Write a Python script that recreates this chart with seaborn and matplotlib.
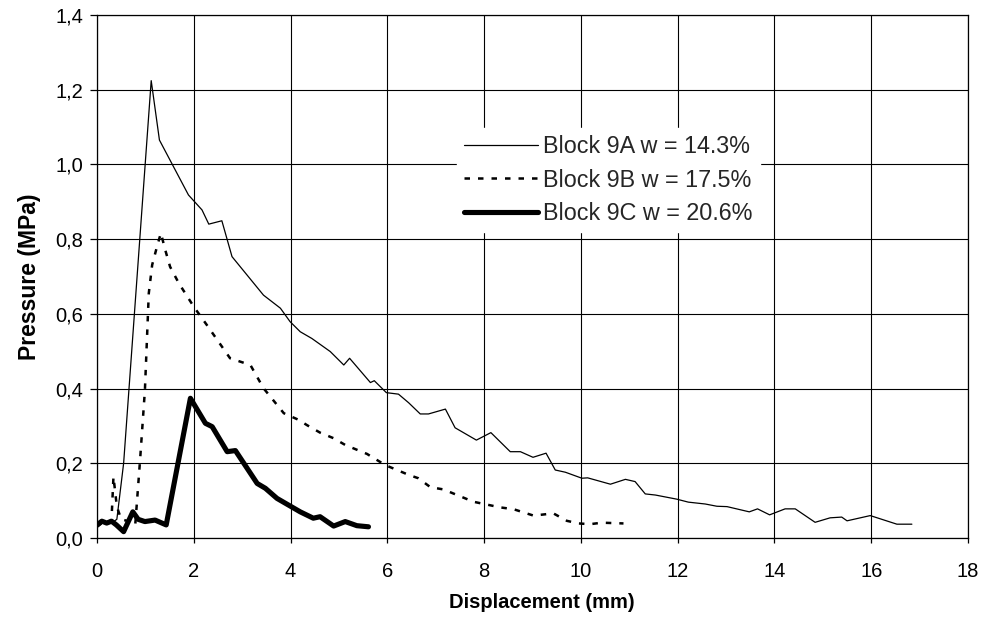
import matplotlib
matplotlib.use("Agg")
import matplotlib.pyplot as plt
from matplotlib.lines import Line2D
from matplotlib.ticker import FuncFormatter
import seaborn as sns
import pandas as pd

# ---- data ----
x_9a = [0, 0.1, 0.2, 0.3, 0.41, 0.55, 1.12, 1.29, 1.89, 2.17, 2.31, 2.58, 2.79, 3.44, 3.79,
        3.99, 4.2, 4.44, 4.82, 5.10, 5.22, 5.65, 5.73, 5.98, 6.23, 6.44, 6.68, 6.85, 7.20, 7.40,
        7.84, 8.14, 8.54, 8.75, 9.01, 9.28, 9.47, 9.68, 10.02, 10.14, 10.61, 10.92, 11.12, 11.33,
        11.54, 11.98, 12.22, 12.57, 12.81, 13.02, 13.48, 13.65, 13.90, 14.22, 14.43, 14.84, 15.15,
        15.39, 15.50, 15.98, 16.53, 16.84]
y_9a = [0.035, 0.04, 0.038, 0.04, 0.05, 0.2, 1.224, 1.065, 0.918, 0.878, 0.84, 0.849, 0.753, 0.65,
        0.615, 0.579, 0.552, 0.534, 0.499, 0.463, 0.481, 0.416, 0.421, 0.389, 0.385, 0.362, 0.332,
        0.332, 0.345, 0.295, 0.262, 0.282, 0.231, 0.231, 0.216, 0.227, 0.182, 0.176, 0.160, 0.161,
        0.144, 0.157, 0.151, 0.118, 0.115, 0.104, 0.096, 0.091, 0.085, 0.084, 0.070, 0.078, 0.062,
        0.078, 0.078, 0.042, 0.054, 0.056, 0.046, 0.060, 0.037, 0.037]

x_9b = [0, 0.1, 0.2, 0.3, 0.34, 0.41, 0.5, 0.65, 0.79, 0.89, 0.99, 1.07, 1.14, 1.24, 1.32, 1.41,
        1.51, 1.69, 2.0, 2.27, 2.75, 3.17, 3.44, 3.86, 4.17, 4.34, 4.61, 4.89, 5.13, 5.58, 5.96,
        6.44, 6.64, 6.89, 7.16, 7.78, 8.33, 8.61, 9.02, 9.23, 9.43, 9.71, 9.95, 10.19, 10.43, 10.88]
y_9b = [0.03, 0.04, 0.035, 0.05, 0.164, 0.084, 0.05, 0.045, 0.035, 0.209, 0.396, 0.655, 0.731,
        0.78, 0.816, 0.771, 0.726, 0.682, 0.619, 0.57, 0.481, 0.463, 0.401, 0.334, 0.316, 0.302,
        0.282, 0.267, 0.249, 0.225, 0.195, 0.169, 0.160, 0.136, 0.130, 0.097, 0.082, 0.077, 0.060,
        0.063, 0.066, 0.046, 0.039, 0.037, 0.041, 0.039]

x_9c = [0, 0.1, 0.2, 0.3, 0.4, 0.55, 0.74, 0.85, 0.99, 1.2, 1.43, 1.93, 2.24, 2.38, 2.69, 2.86,
        3.31, 3.48, 3.72, 4.2, 4.47, 4.61, 4.89, 5.13, 5.37, 5.61]
y_9c = [0.035, 0.045, 0.04, 0.045, 0.035, 0.017, 0.07, 0.05, 0.044, 0.048, 0.035, 0.374, 0.307,
        0.298, 0.231, 0.234, 0.146, 0.133, 0.106, 0.07, 0.053, 0.057, 0.032, 0.044, 0.033, 0.030]

labels = ["Block 9A w = 14.3%", "Block 9B w = 17.5%", "Block 9C w = 20.6%"]
x_ticks = [0, 2, 4, 6, 8, 10, 12, 14, 16, 18]
y_ticks = [0.0, 0.2, 0.4, 0.6, 0.8, 1.0, 1.2, 1.4]

# ---- style ----
sns.set_theme(style="white")
plt.rcParams["font.family"] = ["Liberation Sans", "DejaVu Sans"]

fig = plt.figure(figsize=(9.96, 6.28), dpi=100)
ax = fig.add_axes([0.0974, 0.1433, 0.8745, 0.8330])

styles = [
    dict(lw=0.9, ls="-"),
    dict(lw=1.8, ls=(0, (2.2, 3.2))),
    dict(lw=3.7, ls="-"),
]
series = [(x_9a, y_9a), (x_9b, y_9b), (x_9c, y_9c)]
for (xs, ys), st in zip(series, styles):
    df = pd.DataFrame({"x": xs, "y": ys})
    sns.lineplot(data=df, x="x", y="y", ax=ax, sort=False, estimator=None,
                 color="black", linewidth=st["lw"], linestyle=st["ls"], legend=False)

ax.set_xlim(0, 18)
ax.set_ylim(0, 1.4)
ax.set_xticks(x_ticks)
ax.set_yticks(y_ticks)
ax.xaxis.set_major_formatter(FuncFormatter(lambda v, p: f"{v:.0f}"))
ax.yaxis.set_major_formatter(FuncFormatter(lambda v, p: f"{v:.1f}".replace(".", ",")))
ax.grid(True, color="black", linewidth=0.8)
ax.set_axisbelow(True)
for s in ax.spines.values():
    s.set_color("black")
    s.set_linewidth(0.9)
ax.tick_params(axis="both", direction="out", width=0.9, color="black",
               labelsize=14.5, labelcolor="black", bottom=True, left=True)
ax.tick_params(axis="x", length=3.6, pad=13.5)
ax.tick_params(axis="y", length=5, pad=5)

ax.set_xlabel("Displacement (mm)", fontsize=14.5, fontweight="bold", color="black", labelpad=8)
ax.set_ylabel("Pressure (MPa)", fontsize=16.5, fontweight="bold", color="black", labelpad=10)
ax.xaxis.set_label_coords(0.511, -0.105)

handles = [Line2D([], [], color="black", linewidth=st["lw"], linestyle=st["ls"]) for st in styles]
leg = ax.legend(handles, labels, loc="upper left", bbox_to_anchor=(0.413, 0.784),
                frameon=True, fontsize=16.8, handlelength=3.2, handletextpad=0.2,
                labelspacing=0.46, borderpad=0.3, borderaxespad=0)
leg.get_frame().set_facecolor("white")
leg.get_frame().set_edgecolor("white")
leg.get_frame().set_alpha(1)
leg.get_frame().set_boxstyle("square", pad=0)

fig.savefig("out.png", dpi=100)
